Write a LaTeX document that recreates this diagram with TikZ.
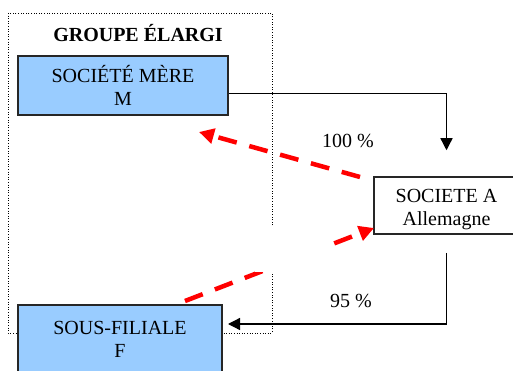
\documentclass[tikz,border=0pt]{standalone}
\usepackage{fontspec}
\setmainfont{Liberation Serif}
\usetikzlibrary{arrows.meta}
\definecolor{boxblue}{HTML}{99CCFF}
\definecolor{dashred}{HTML}{FF0000}
\begin{document}
\begin{tikzpicture}[x=1pt,y=-1pt,
  every node/.style={font=\fontsize{20}{23}\selectfont, align=center},
  entity/.style={draw=black!85, line width=1.5pt, inner sep=0pt},
  bluebox/.style={entity, fill=boxblue},
  whitebox/.style={entity, fill=white},
  link/.style={line width=1.3pt, -{Triangle[length=12pt,width=12pt]}},
  influence/.style={dashred, line width=4.5pt, dash pattern=on 19pt off 13pt,
    -{Triangle[length=15pt,width=15pt]}},
  groupframe/.style={line width=0.9pt, dash pattern=on 1pt off 1.6pt}]

\clip (0,0) rectangle (513,371);
\fill[white] (0,0) rectangle (513,371);

% frame of the enlarged group and its title
\draw[groupframe] (8,13) rectangle (272,333);
\node[font=\bfseries\fontsize{20}{23}\selectfont] (title) at (138,33) {GROUPE ÉLARGI};

% companies
\node[bluebox, minimum width=210pt, minimum height=59pt] (M) at (123,85.5)
  {SOCIÉTÉ MÈRE\\M};
\node[whitebox, minimum width=145pt, minimum height=57pt] (A) at (446.5,205.5) {};
\node (Alabel) at ([yshift=-4pt]A.center) {SOCIETE A\\Allemagne};
\node[bluebox, minimum width=204pt, minimum height=80pt, anchor=north] (F) at (120,304) {};
\node[anchor=north] (Flabel) at ([yshift=-14pt]F.north) {SOUS-FILIALE\\F};

% free ends of the connectors
\coordinate (mtip) at (199,132);
\coordinate (atail) at (360,177);
\coordinate (ftail) at (185,301);
\coordinate (atip) at (374,228);
\coordinate (fin) at (228,324);

% influence arrows (dashed, red), partly hidden by a blank patch
\draw[influence] (atail) -- (mtip);
\draw[influence] (ftail) -- (atip);
\fill[white] (255,227) rectangle (332,272);

% holdings
\draw[link] ([yshift=-8pt]M.east) -| ([yshift=26pt]A.north);
\draw[link] ([yshift=-18pt]A.south) |- (fin);
\node (p100) at (348,141) {100 \%};
\node (p95) at (351,301) {95 \%};
\end{tikzpicture}
\end{document}
